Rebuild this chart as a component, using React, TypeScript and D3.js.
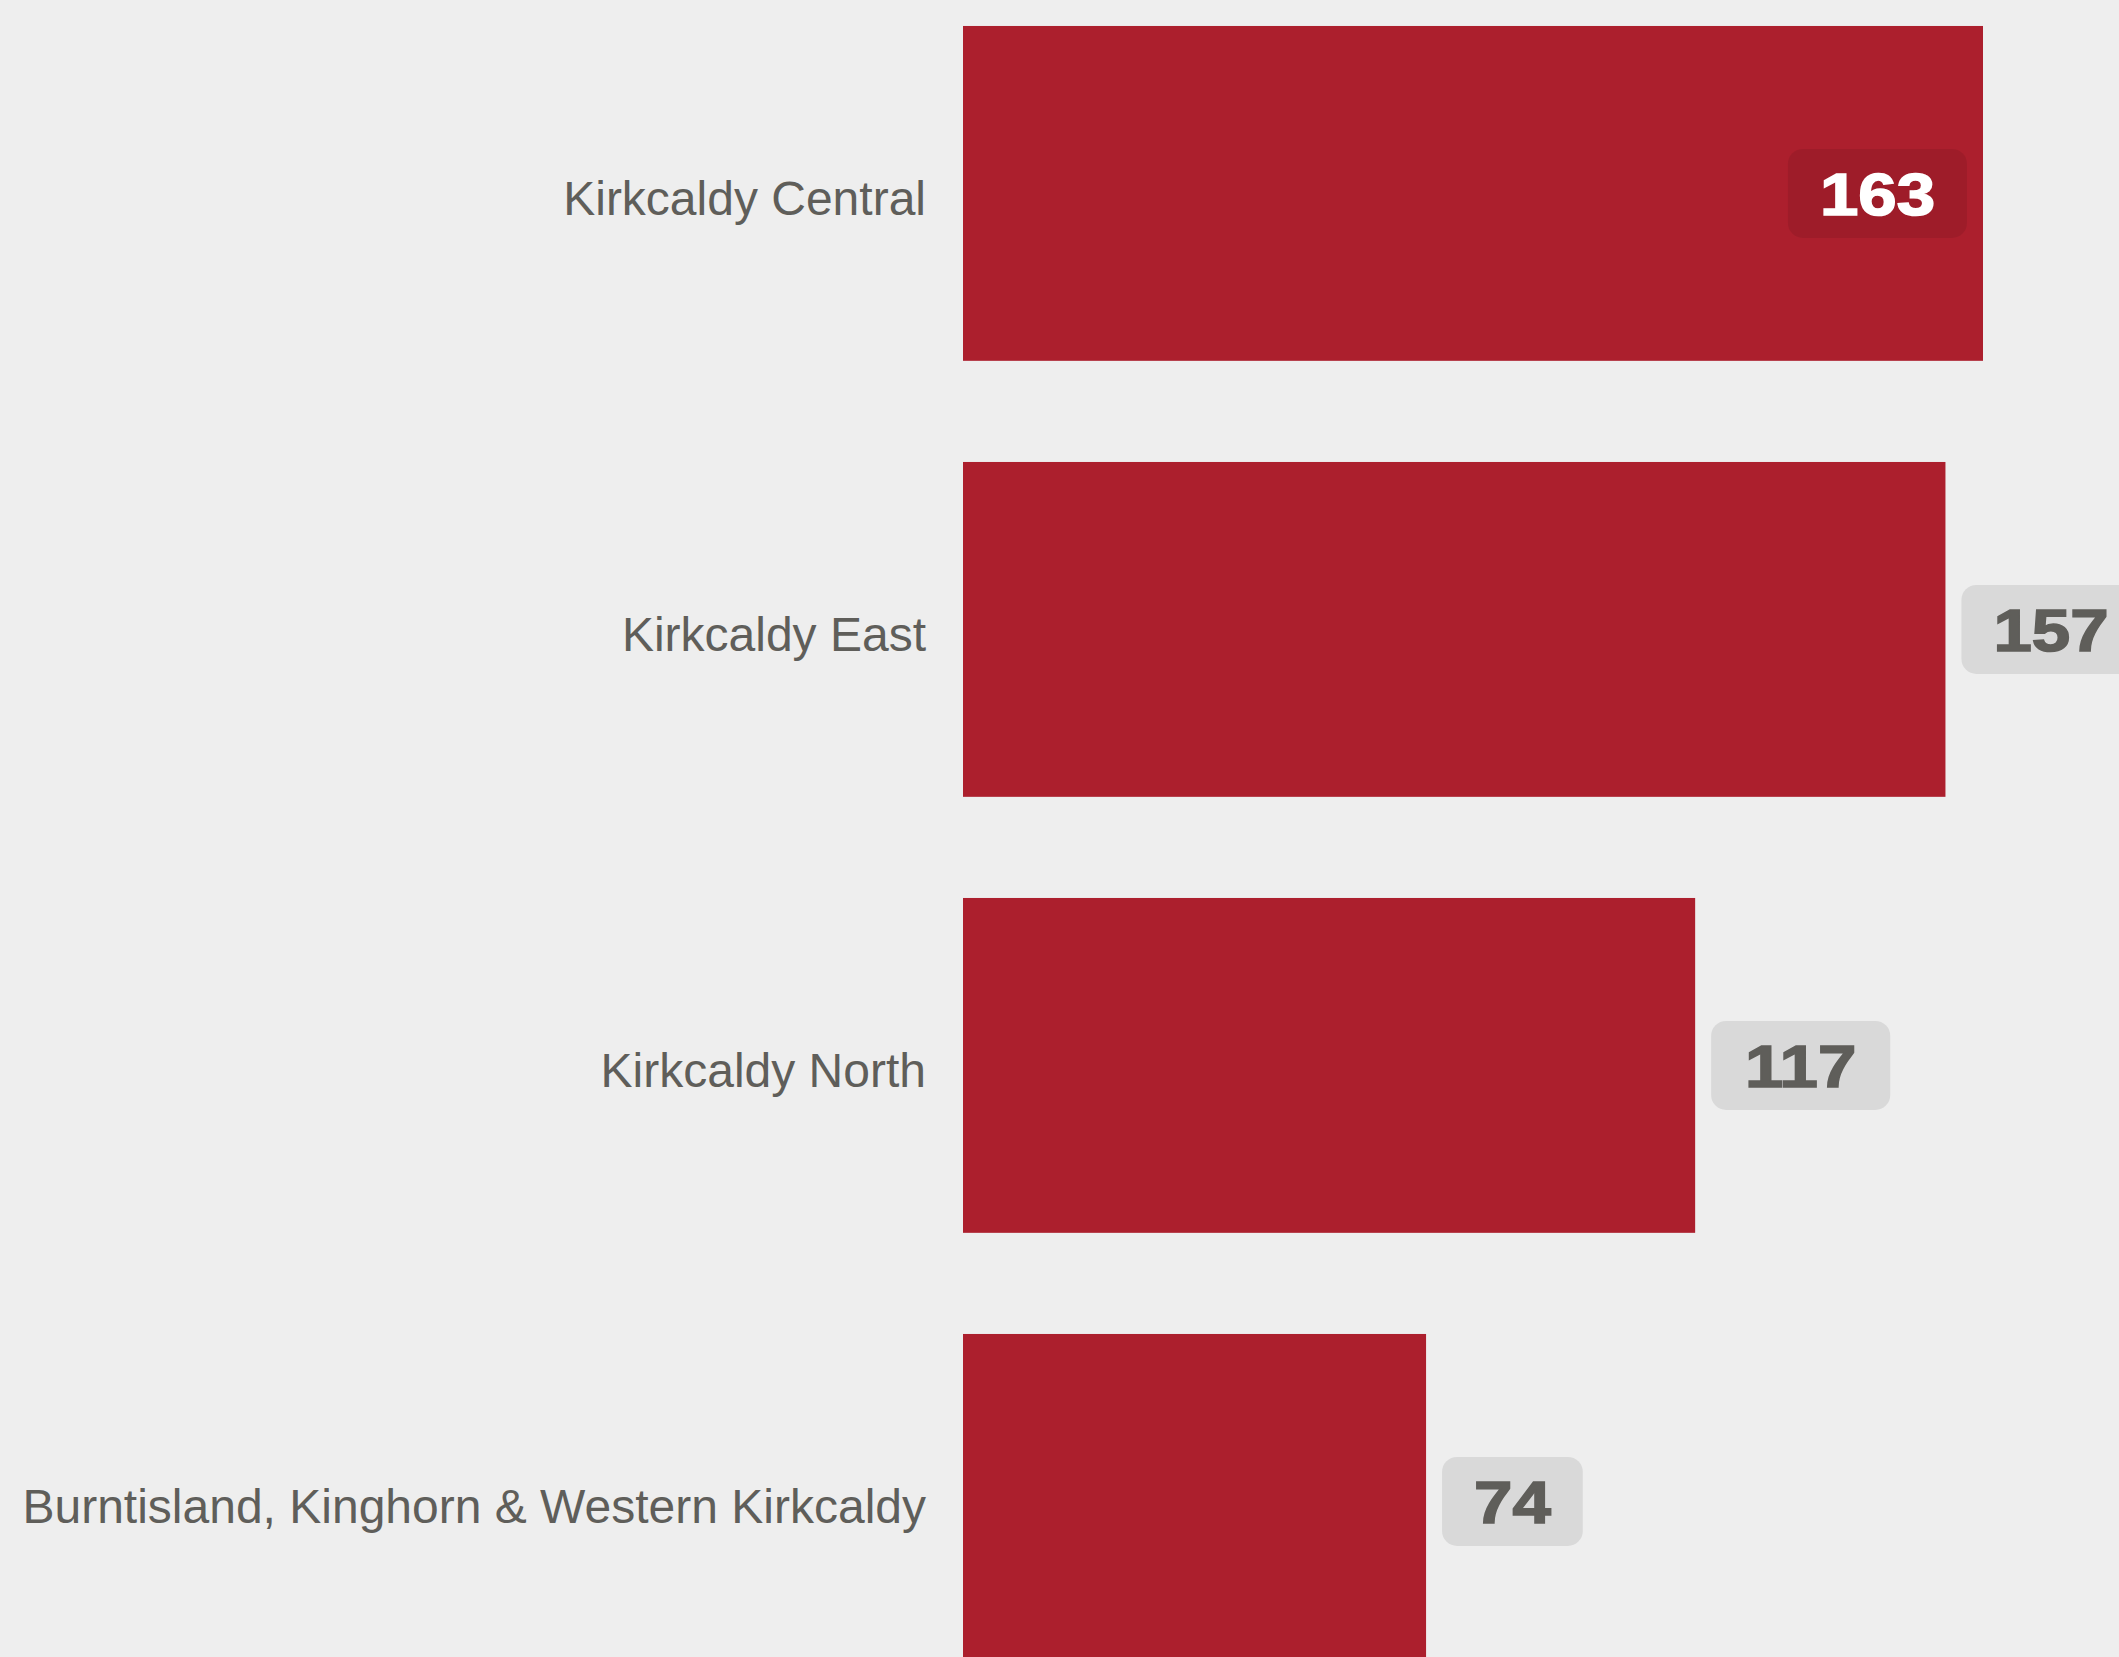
import React from "react";
import * as d3 from "d3";

const categories = [
  "Kirkcaldy Central",
  "Kirkcaldy East",
  "Kirkcaldy North",
  "Burntisland, Kinghorn & Western Kirkcaldy",
];
const values = [163, 157, 117, 74];

const W = 2119;
const H = 1657;
const X0 = 963;
const BG = "#eeeeee";
const BAR = "#ac1f2d";
const TEXT = "#5f5e5a";

export default function App() {
  const x = d3.scaleLinear().domain([0, 163]).range([X0, 1983]);
  const y = d3
    .scaleBand<string>()
    .domain(categories)
    .range([-24.6, -24.6 + 4 * 436])
    .paddingInner(0.232)
    .paddingOuter(0.116);
  const maxV = d3.max(values) as number;
  const valueFont = 60;
  const sx = 1.15;
  const digitW = 0.556 * valueFont * sx;

  return (
    <svg
      width={W}
      height={H}
      style={{ position: "absolute", left: 0, top: 0, display: "block" }}
    >
      <rect x={0} y={0} width={W} height={H} fill={BG} />
      {categories.map((c, i) => {
        const v = values[i];
        const y0 = y(c) as number;
        const bw = y.bandwidth();
        const cy = y0 + bw / 2;
        const xe = x(v);
        const str = String(v);
        const boxW = str.length * digitW + 64;
        const boxH = 89;
        const inside = v === maxV;
        const bx = inside ? xe - 16 - boxW : xe + 16;
        const tx = bx + boxW / 2;
        return (
          <g key={c}>
            <rect x={X0} y={y0} width={xe - X0} height={bw} fill={BAR} />
            <text
              x={X0 - 37}
              y={cy + 22}
              textAnchor="end"
              fontFamily="'Liberation Sans', Arial, sans-serif"
              fontSize={48}
              fill={TEXT}
            >
              {c}
            </text>
            <rect
              x={bx}
              y={cy - boxH / 2}
              width={boxW}
              height={boxH}
              rx={15}
              ry={15}
              fill={inside ? "rgba(0,0,0,0.08)" : "#d9d9d9"}
            />
            <text
              transform={`translate(${tx},${cy + 21.5}) scale(${sx},1)`}
              textAnchor="middle"
              fontFamily="'Liberation Sans', Arial, sans-serif"
              fontWeight="bold"
              fontSize={valueFont}
              fill={inside ? "#ffffff" : TEXT}
              stroke={inside ? "#ffffff" : TEXT}
              strokeWidth={1.6}
            >
              {str}
            </text>
          </g>
        );
      })}
    </svg>
  );
}
